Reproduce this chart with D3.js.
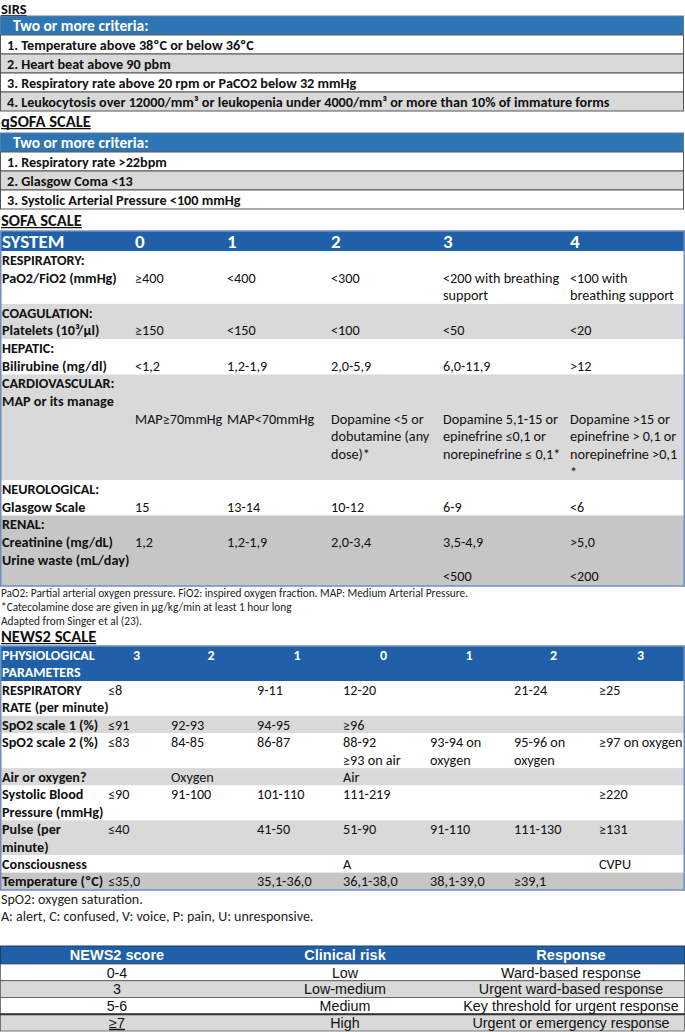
<!DOCTYPE html>
<html><head><meta charset="utf-8">
<script src="https://cdn.jsdelivr.net/npm/d3@7"></script>
<style>body{margin:0;background:#fff}svg{display:block}</style>
</head><body><script>
// ---------- DATA ----------
const sirsTitle = "SIRS";
const sirsHeader = "Two or more criteria:";
const sirsCriteria = [
  "1. Temperature above 38ºC or below 36ºC",
  "2. Heart beat above 90 pbm",
  "3. Respiratory rate above 20 rpm or PaCO2 below 32 mmHg",
  "4. Leukocytosis over 12000/mm³ or leukopenia under 4000/mm³ or more than 10% of immature forms"
];
const qsofaTitle = "qSOFA SCALE";
const qsofaHeader = "Two or more criteria:";
const qsofaCriteria = [
  "1. Respiratory rate >22bpm",
  "2. Glasgow Coma <13",
  "3. Systolic Arterial Pressure <100 mmHg"
];
const sofaTitle = "SOFA SCALE";
const sofaColumns = ["SYSTEM", "0", "1", "2", "3", "4"];
const sofaRespiratory = [
  ["RESPIRATORY:", "", "", "", "", ""],
  ["PaO2/FiO2 (mmHg)", "≥400", "<400", "<300", "<200 with breathing", "<100 with"],
  ["", "", "", "", "support", "breathing support"]
];
const sofaCoagulation = [
  ["COAGULATION:", "", "", "", "", ""],
  ["Platelets (10³/µl)", "≥150", "<150", "<100", "<50", "<20"]
];
const sofaHepatic = [
  ["HEPATIC:", "", "", "", "", ""],
  ["Bilirubine (mg/dl)", "<1,2", "1,2-1,9", "2,0-5,9", "6,0-11,9", ">12"]
];
const sofaCardiovascular = [
  ["CARDIOVASCULAR:", "", "", "", "", ""],
  ["MAP or its manage", "", "", "", "", ""],
  ["", "MAP≥70mmHg", "MAP<70mmHg", "Dopamine <5 or", "Dopamine 5,1-15 or", "Dopamine >15 or"],
  ["", "", "", "dobutamine (any", "epinefrine ≤0,1 or", "epinefrine > 0,1 or"],
  ["", "", "", "dose)*", "norepinefrine ≤ 0,1*", "norepinefrine >0,1"],
  ["", "", "", "", "", "*"]
];
const sofaNeurological = [
  ["NEUROLOGICAL:", "", "", "", "", ""],
  ["Glasgow Scale", "15", "13-14", "10-12", "6-9", "<6"]
];
const sofaRenal = [
  ["RENAL:", "", "", "", "", ""],
  ["Creatinine (mg/dL)", "1,2", "1,2-1,9", "2,0-3,4", "3,5-4,9", ">5,0"],
  ["Urine waste (mL/day)", "", "", "", "", ""],
  ["", "", "", "", "<500", "<200"]
];
const sofaNotes = [
  "PaO2: Partial arterial oxygen pressure. FiO2: inspired oxygen fraction. MAP: Medium Arterial Pressure.",
  "*Catecolamine dose are given in µg/kg/min at least 1 hour long",
  "Adapted from Singer et al (23)."
];
const news2Title = "NEWS2 SCALE";
const news2HeaderLabel = ["PHYSIOLOGICAL", "PARAMETERS"];
const news2Scores = ["3", "2", "1", "0", "1", "2", "3"];
const news2Respiratory = [
  ["RESPIRATORY", "≤8", "", "9-11", "12-20", "", "21-24", "≥25"],
  ["RATE (per minute)", "", "", "", "", "", "", ""]
];
const news2SpO2Scale1 = [
  ["SpO2 scale 1 (%)", "≤91", "92-93", "94-95", "≥96", "", "", ""]
];
const news2SpO2Scale2 = [
  ["SpO2 scale 2 (%)", "≤83", "84-85", "86-87", "88-92", "93-94 on", "95-96 on", "≥97 on oxygen"],
  ["", "", "", "", "≥93 on air", "oxygen", "oxygen", ""]
];
const news2AirOxygen = [
  ["Air or oxygen?", "", "Oxygen", "", "Air", "", "", ""]
];
const news2Systolic = [
  ["Systolic Blood", "≤90", "91-100", "101-110", "111-219", "", "", "≥220"],
  ["Pressure (mmHg)", "", "", "", "", "", "", ""]
];
const news2Pulse = [
  ["Pulse (per", "≤40", "", "41-50", "51-90", "91-110", "111-130", "≥131"],
  ["minute)", "", "", "", "", "", "", ""]
];
const news2Consciousness = [
  ["Consciousness", "", "", "", "A", "", "", "CVPU"]
];
const news2Temperature = [
  ["Temperature (ºC)", "≤35,0", "", "35,1-36,0", "36,1-38,0", "38,1-39,0", "≥39,1", ""]
];
const news2Notes = [
  "SpO2: oxygen saturation.",
  "A: alert, C: confused, V: voice, P: pain, U: unresponsive."
];
const riskColumns = ["NEWS2 score", "Clinical risk", "Response"];
const riskScores = ["0-4", "3", "5-6", "≥7"];
const riskLevels = ["Low", "Low-medium", "Medium", "High"];
const riskResponses = ["Ward-based response", "Urgent ward-based response", "Key threshold for urgent response", "Urgent or emergency response"];

// ---------- DRAW ----------
const W = 685, H = 1032;
const CAL = "Carlito, Lato, 'Open Sans', sans-serif";
const ARIAL = "'Liberation Sans', Arial, sans-serif";
const BLUE_L = "#2E75B6", BLUE_D = "#1F60A8", GRAY = "#D9D9D9", GRAY_D = "#C6C6C6";
const FS = 14.2;
const svg = d3.select("body").append("svg").attr("width", W).attr("height", H);

function title(text, x, baseline, size) {
  const t = svg.append("text").attr("x", x).attr("y", baseline)
    .attr("font-family", CAL).attr("font-weight", "bold").attr("font-size", size || 16.5)
    .attr("fill", "#111").text(text);
  const w = t.node().getComputedTextLength();
  svg.append("line").attr("x1", x).attr("x2", x + w)
    .attr("y1", baseline + 1.6).attr("y2", baseline + 1.6)
    .attr("stroke", "#111").attr("stroke-width", 1.3);
}

function criteriaTable(ttl, titleBase, titleSize, header, rows, top, bottom) {
  title(ttl, 1, titleBase, titleSize);
  const y = d3.scaleBand().domain(d3.range(-1, rows.length)).range([top, bottom]);
  const g = svg.append("g");
  g.selectAll("rect.r").data(d3.range(-1, rows.length)).join("rect")
    .attr("x", 0.5).attr("width", W - 2).attr("y", d => y(d)).attr("height", y.bandwidth())
    .attr("fill", d => d < 0 ? BLUE_L : (d % 2 ? GRAY : "#fff"))
    .attr("stroke", d => d < 0 ? "#5a7fa8" : "#555").attr("stroke-width", 1);
  g.append("text").attr("x", 13).attr("y", y(-1) + y.bandwidth() / 2).attr("dy", "0.36em")
    .attr("font-family", CAL).attr("font-weight", "bold").attr("font-size", 15.5)
    .attr("fill", "#fff").text(header);
  g.selectAll("text.c").data(rows).join("text").attr("class", "c")
    .attr("x", 7).attr("y", (d, i) => y(i) + y.bandwidth() / 2).attr("dy", "0.36em")
    .attr("font-family", CAL).attr("font-weight", "bold").attr("font-size", FS)
    .attr("fill", "#111").text(d => d);
}

criteriaTable(sirsTitle, 14, 14.5, sirsHeader, sirsCriteria, 16, 111);
criteriaTable(qsofaTitle, 127, 16.5, qsofaHeader, qsofaCriteria, 133, 209);

// ---- SOFA ----
title(sofaTitle, 1, 226);
{
  const groups = [sofaRespiratory, sofaCoagulation, sofaHepatic, sofaCardiovascular, sofaNeurological, sofaRenal];
  const fills = ["#fff", GRAY, "#fff", GRAY, "#fff", GRAY_D];
  const lines = [];
  const bands = [];
  let idx = 0;
  groups.forEach((grp, gi) => {
    bands.push({ start: idx, end: idx + grp.length, fill: fills[gi] });
    grp.forEach(l => { lines.push({ i: idx, cells: l }); idx++; });
  });
  const hTop = 231, top = 251, bottom = 586;
  const y = d3.scaleLinear().domain([0, idx]).range([top, bottom]);
  const x = d3.scaleOrdinal().domain(d3.range(sofaColumns.length)).range([2, 135, 227, 331, 443, 570]);
  const g = svg.append("g");
  g.append("rect").attr("x", 0).attr("y", hTop).attr("width", W).attr("height", top - hTop).attr("fill", BLUE_D);
  g.selectAll("text.h").data(sofaColumns).join("text").attr("class", "h")
    .attr("x", (d, i) => x(i)).attr("y", (top + hTop) / 2).attr("dy", "0.36em")
    .attr("font-family", CAL).attr("font-weight", "bold").attr("font-size", 19).attr("fill", "#fff").text(d => d);
  g.selectAll("rect.b").data(bands).join("rect").attr("class", "b")
    .attr("x", 0).attr("width", W).attr("y", d => y(d.start)).attr("height", d => y(d.end) - y(d.start))
    .attr("fill", d => d.fill);
  const ln = g.selectAll("g.l").data(lines).join("g").attr("class", "l")
    .attr("transform", d => `translate(0,${y(d.i + 0.5) - (d.i === idx - 1 ? 1 : 0)})`);
  ln.selectAll("text").data(d => d.cells.map((c, j) => ({ c, j })).filter(e => e.c !== "")).join("text")
    .attr("x", e => x(e.j)).attr("dy", "0.36em")
    .attr("font-family", CAL).attr("font-weight", e => e.j === 0 ? "bold" : "normal")
    .attr("font-size", FS).attr("fill", "#111").text(e => e.c);
  g.append("rect").attr("x", 0.75).attr("y", hTop).attr("width", W - 1.5).attr("height", bottom - hTop)
    .attr("fill", "none").attr("stroke", "#6f8fbf").attr("stroke-width", 1.5);
  svg.selectAll("text.sn").data(sofaNotes).join("text").attr("class", "sn")
    .attr("x", 1).attr("y", (d, i) => 597 + i * 14)
    .attr("font-family", CAL).attr("font-size", 11.3).attr("fill", "#222").text(d => d);
}

// ---- NEWS2 ----
title(news2Title, 1, 642);
{
  const groups = [news2Respiratory, news2SpO2Scale1, news2SpO2Scale2, news2AirOxygen, news2Systolic, news2Pulse, news2Consciousness, news2Temperature];
  const fills = ["#fff", GRAY, "#fff", GRAY, "#fff", GRAY, "#fff", GRAY_D];
  const lines = [], bands = [];
  let idx = 0;
  groups.forEach((grp, gi) => {
    bands.push({ start: idx, end: idx + grp.length, fill: fills[gi] });
    grp.forEach(l => { lines.push({ i: idx, cells: l }); idx++; });
  });
  const hTop = 646, top = 681, bottom = 890;
  const y = d3.scaleLinear().domain([0, idx]).range([top, bottom]);
  const edges = [0, 105, 168, 254, 340, 427, 511, 596, 685];
  const x = d3.scaleOrdinal().domain(d3.range(8)).range(edges.slice(0, 8).map((e, i) => i === 0 ? 2 : e + 3));
  const xc = d3.scaleOrdinal().domain(d3.range(7)).range(d3.range(7).map(i => (edges[i + 1] + edges[i + 2]) / 2));
  const g = svg.append("g");
  g.append("rect").attr("x", 0).attr("y", hTop).attr("width", W).attr("height", top - hTop).attr("fill", BLUE_D);
  const hy = d3.scaleLinear().domain([0, 2]).range([hTop, top]);
  g.selectAll("text.hl").data(news2HeaderLabel).join("text").attr("class", "hl")
    .attr("x", 2).attr("y", (d, i) => hy(i + 0.5)).attr("dy", "0.36em")
    .attr("font-family", CAL).attr("font-weight", "bold").attr("font-size", 14).attr("fill", "#fff").text(d => d);
  g.selectAll("text.hs").data(news2Scores).join("text").attr("class", "hs")
    .attr("x", (d, i) => xc(i)).attr("y", hy(0.5)).attr("dy", "0.36em").attr("text-anchor", "middle")
    .attr("font-family", CAL).attr("font-weight", "bold").attr("font-size", 14).attr("fill", "#fff").text(d => d);
  g.selectAll("rect.b").data(bands).join("rect").attr("class", "b")
    .attr("x", 0).attr("width", W).attr("y", d => y(d.start)).attr("height", d => y(d.end) - y(d.start))
    .attr("fill", d => d.fill);
  const ln = g.selectAll("g.l").data(lines).join("g").attr("class", "l")
    .attr("transform", d => `translate(0,${y(d.i + 0.5)})`);
  ln.selectAll("text").data(d => d.cells.map((c, j) => ({ c, j })).filter(e => e.c !== "")).join("text")
    .attr("x", e => x(e.j)).attr("dy", "0.36em")
    .attr("font-family", CAL).attr("font-weight", e => e.j === 0 ? "bold" : "normal")
    .attr("font-size", FS).attr("fill", "#111").text(e => e.c);
  g.append("rect").attr("x", 0.75).attr("y", hTop).attr("width", W - 1.5).attr("height", bottom - hTop)
    .attr("fill", "none").attr("stroke", "#6f8fbf").attr("stroke-width", 1.5);
  svg.selectAll("text.nn").data(news2Notes).join("text").attr("class", "nn")
    .attr("x", 1).attr("y", (d, i) => 904 + i * 17)
    .attr("font-family", CAL).attr("font-size", 14).attr("fill", "#222").text(d => d);
}

// ---- Risk table ----
{
  const top = 946, hBot = 964, bottom = 1031;
  const y = d3.scaleBand().domain(d3.range(riskScores.length)).range([hBot, bottom]);
  const centers = [117, 345, 571];
  const g = svg.append("g");
  g.append("rect").attr("x", 0.5).attr("y", top).attr("width", W - 1).attr("height", hBot - top)
    .attr("fill", BLUE_D).attr("stroke", "#1b3f6b");
  g.selectAll("text.h").data(riskColumns).join("text").attr("class", "h")
    .attr("x", (d, i) => centers[i]).attr("y", (top + hBot) / 2).attr("dy", "0.36em").attr("text-anchor", "middle")
    .attr("font-family", ARIAL).attr("font-weight", "bold").attr("font-size", 14.5).attr("fill", "#fff").text(d => d);
  g.selectAll("rect.r").data(riskScores).join("rect").attr("class", "r")
    .attr("x", 0.5).attr("width", W - 1).attr("y", (d, i) => y(i)).attr("height", y.bandwidth())
    .attr("fill", (d, i) => i % 2 ? GRAY : "#fff").attr("stroke", "#555").attr("stroke-width", 0.8);
  g.append("line").attr("x1", 0).attr("x2", W).attr("y1", y(3)).attr("y2", y(3))
    .attr("stroke", "#333").attr("stroke-width", 2);
  const cols = [riskScores, riskLevels, riskResponses];
  cols.forEach((arr, ci) => {
    g.selectAll("text.c" + ci).data(arr).join("text").attr("class", "c" + ci)
      .attr("x", centers[ci]).attr("y", (d, i) => y(i) + y.bandwidth() / 2).attr("dy", "0.36em")
      .attr("text-anchor", "middle").attr("font-family", ARIAL).attr("font-size", 14.3).attr("fill", "#111")
      .attr("text-decoration", d => d === "≥7" ? "underline" : null)
      .text(d => d);
  });
}
</script></body></html>
